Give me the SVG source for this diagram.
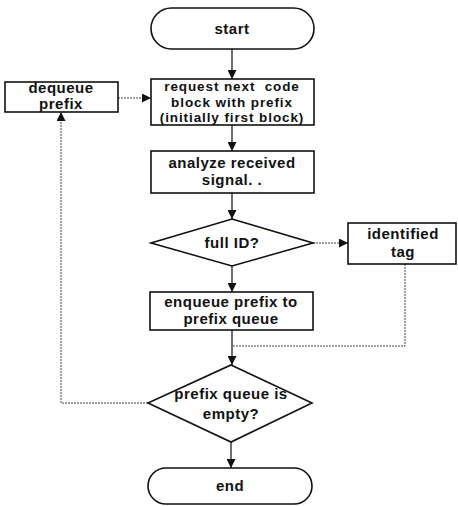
<svg xmlns="http://www.w3.org/2000/svg" width="458" height="506" viewBox="0 0 458 506">
<style>
.box{fill:#fff;stroke:#111;stroke-width:1.6}
.t{font-family:"Liberation Sans",Arial,sans-serif;font-weight:bold;font-size:15px;letter-spacing:0.5px;fill:#111;text-anchor:middle}
.s{font-size:13.5px;letter-spacing:0.9px}
.ln{fill:none;stroke:#222;stroke-width:1.3}
.dl{fill:none;stroke:#444;stroke-width:1;stroke-dasharray:2 1}
</style>
<defs>
<marker id="ah" viewBox="0 0 10 10" refX="10" refY="5" markerWidth="9" markerHeight="9" markerUnits="userSpaceOnUse" orient="auto">
<path d="M0,0 L10,5 L0,10 Z" fill="#111"/>
</marker>
</defs>
<rect width="458" height="506" fill="#fff"/>
<g id="connectors">
<line class="ln" x1="232" y1="49" x2="232" y2="79" marker-end="url(#ah)"/>
<line class="dl" x1="118" y1="98" x2="151" y2="98" marker-end="url(#ah)"/>
<line class="ln" x1="232" y1="125" x2="232" y2="151" marker-end="url(#ah)"/>
<line class="ln" x1="232" y1="193" x2="232" y2="219" marker-end="url(#ah)"/>
<line class="dl" x1="313" y1="243" x2="348" y2="243" marker-end="url(#ah)"/>
<line class="ln" x1="232" y1="266" x2="232" y2="292" marker-end="url(#ah)"/>
<polyline class="dl" points="405,264 405,346 232,346"/>
<line class="ln" x1="232" y1="330" x2="232" y2="365" marker-end="url(#ah)"/>
<polyline class="dl" points="148,403 61,403 61,112" marker-end="url(#ah)"/>
<line class="ln" x1="231" y1="442" x2="231" y2="468" marker-end="url(#ah)"/>
</g>
<g id="start">
<rect class="box" x="151" y="8" width="163" height="41" rx="20.5"/>
<text class="t" x="232" y="34">start</text>
</g>
<g id="dequeue">
<rect class="box" x="5" y="82" width="113" height="30"/>
<text class="t" x="61" y="93">dequeue</text>
<text class="t" x="61" y="109">prefix</text>
</g>
<g id="request">
<rect class="box" x="151" y="79" width="163" height="46"/>
<text class="t s" x="232" y="91">request next&#160; code</text>
<text class="t s" x="232" y="106.5">block with prefix</text>
<text class="t s" x="232" y="122">(initially first block)</text>
</g>
<g id="analyze">
<rect class="box" x="151" y="151" width="163" height="42"/>
<text class="t" x="232" y="168">analyze received</text>
<text class="t" x="232" y="185">signal. .</text>
</g>
<g id="fullid">
<polygon class="box" points="232,219 313,243 232,266 151,243"/>
<text class="t" x="232" y="248">full ID?</text>
</g>
<g id="tag">
<rect class="box" x="348" y="223" width="108" height="41"/>
<text class="t" x="403" y="239">identified</text>
<text class="t" x="403" y="257">tag</text>
</g>
<g id="enqueue">
<rect class="box" x="150" y="292" width="163" height="38"/>
<text class="t" x="231" y="307">enqueue prefix to</text>
<text class="t" x="231" y="324">prefix queue</text>
</g>
<g id="empty">
<polygon class="box" points="231,365 312,403 231,442 148,403"/>
<text class="t" x="231" y="399">prefix queue is</text>
<text class="t" x="231" y="419">empty?</text>
</g>
<g id="end">
<rect class="box" x="148" y="468" width="164" height="36" rx="18"/>
<text class="t" x="230" y="491">end</text>
</g>
</svg>
